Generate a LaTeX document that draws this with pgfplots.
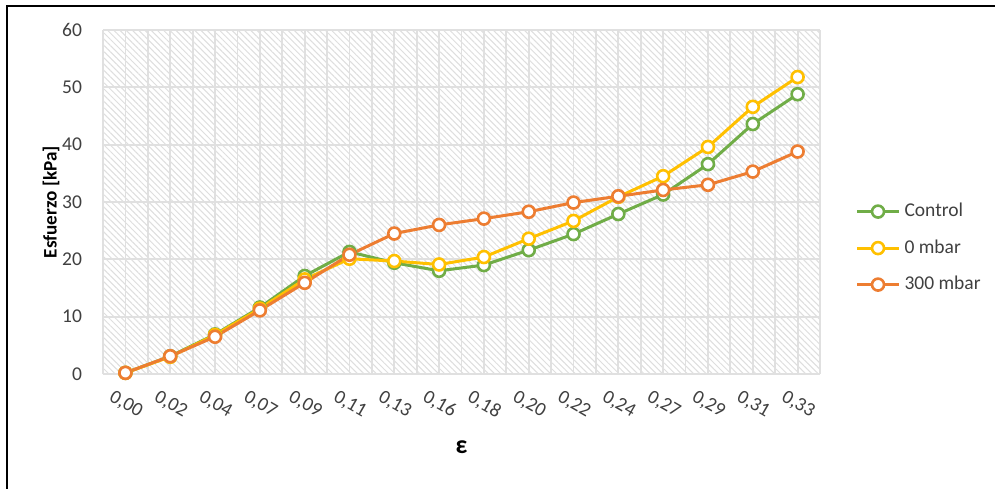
\documentclass[border=0pt]{standalone}
\usepackage{fontspec}
\setmainfont{Carlito}
\usepackage{pgfplots}
\pgfplotsset{compat=1.18}
\usetikzlibrary{patterns.meta}
\definecolor{cgreen}{HTML}{70AD47}
\definecolor{cyellow}{HTML}{FFC000}
\definecolor{corange}{HTML}{ED7D31}
\definecolor{cgrid}{HTML}{E0E0E0}
\definecolor{ctick}{HTML}{404040}
\pgfplotstableread{
x control zero three
0 0.2 0.2 0.2
1 3.1 3.0 3.1
2 6.9 6.8 6.5
3 11.6 11.4 11.1
4 17.1 16.5 15.9
5 21.3 20.1 20.8
6 19.4 19.7 24.5
7 18.0 19.1 26.0
8 19.0 20.4 27.1
9 21.6 23.6 28.3
10 24.4 26.7 29.9
11 27.9 30.9 31.0
12 31.3 34.5 32.1
13 36.6 39.6 33.0
14 43.6 46.6 35.3
15 48.8 51.8 38.8
}\datatable
\begin{document}
\begin{tikzpicture}
\useasboundingbox (0,0) rectangle (497.5bp,244.5bp);
\fill[white] (0,0) rectangle (497.5bp,244.5bp);
\draw[line width=1.1bp] (3.5bp,0) -- (3.5bp,241.5bp) -- (497.5bp,241.5bp);
\begin{axis}[
  at={(51.5bp,57.5bp)}, anchor=south west,
  scale only axis, width=358.5bp, height=172bp,
  xmin=-0.5, xmax=15.5, ymin=0, ymax=60,
  xtick={0,...,15},
  minor xtick={-0.5,0.5,...,15.5},
  xticklabels={{0,00},{0,02},{0,04},{0,07},{0,09},{0,11},{0,13},{0,16},{0,18},{0,20},{0,22},{0,24},{0,27},{0,29},{0,31},{0,33}},
  ytick={0,10,...,60},
  grid=both,
  major grid style={cgrid, line width=0.9bp},
  minor grid style={cgrid, line width=0.9bp},
  axis line style={draw=none},
  tick style={draw=none},
  major tick length=0pt, minor tick length=0pt,
  axis background/.style={pattern={Lines[angle=-45,distance=2.2bp,line width=0.5bp]}, pattern color=black!13},
  /pgf/number format/assume math mode=true,
  tick label style={font=\fontsize{9.8}{11}\selectfont, text=ctick},
  yticklabel style={anchor=east, xshift=-7bp},
  xticklabel style={rotate=-30, anchor=north west, inner sep=0pt, yshift=-9bp, xshift=-1bp},
  ylabel={\bfseries Esfuerzo [kPa]},
  ylabel style={at={(axis description cs:-0.0725,0.5)}, anchor=center, font=\fontsize{9.6}{11}\selectfont},
  xlabel={\bfseries ε},
  xlabel style={at={(axis description cs:0.5,-0.212)}, anchor=center, font=\fontsize{13}{14}\selectfont},
  clip=false,
  legend style={at={(axis description cs:1.049,0.366)}, anchor=west, draw=none, fill=none,
    font=\fontsize{9.8}{11}\selectfont, text=ctick, row sep=6bp, inner sep=0pt},
  legend cell align=left,
  legend image code/.code={\draw[mark repeat=2,mark phase=2] plot coordinates {(0bp,0bp)(10.5bp,0bp)(21bp,0bp)};},
  every axis plot/.append style={line width=1.5bp, mark=*, mark size=3bp, mark options={fill=white, line width=1.3bp}},
]
\addplot[color=cgreen] table[x=x,y=control] {\datatable};
\addlegendentry{Control}
\addplot[color=cyellow] table[x=x,y=zero] {\datatable};
\addlegendentry{0 mbar}
\addplot[color=corange] table[x=x,y=three] {\datatable};
\addlegendentry{300 mbar}
\end{axis}
\end{tikzpicture}
\end{document}
